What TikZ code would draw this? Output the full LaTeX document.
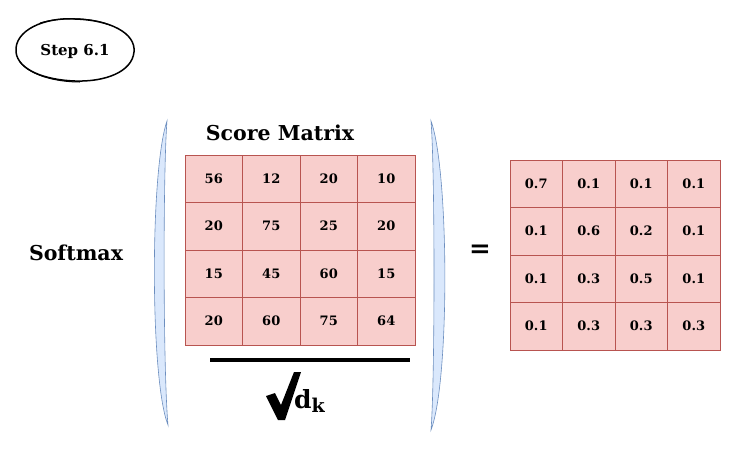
\documentclass[tikz,border=0pt]{standalone}
\usepackage{fontspec}
\setmainfont{DejaVu Serif}
\definecolor{cellfill}{HTML}{F8CECC}
\definecolor{celldraw}{HTML}{B85450}
\definecolor{parfill}{HTML}{DAE8FC}
\definecolor{pardraw}{HTML}{6C8EBF}
\begin{document}
\begin{tikzpicture}[x=1pt,y=-1pt,
  cell/.style={draw=celldraw,fill=cellfill,line width=0.8pt,inner sep=0pt,font=\fontsize{13}{14}\selectfont\bfseries},
  paren/.style={draw=pardraw,fill=parfill,line width=0.6pt},
  bigtext/.style={font=\fontsize{20.5}{22}\selectfont\bfseries}]
\useasboundingbox[fill=white] (0,0) rectangle (741,451);
% Step ellipse
\node[font=\fontsize{15}{16}\selectfont\bfseries] (step) at (75,51) {Step 6.1};
\draw[line width=1.5pt] (16,52) .. controls (14,30) and (45,17) .. (75,19) .. controls (110,20) and (136,33) .. (134,52) .. controls (132,72) and (105,82) .. (75,81) .. controls (45,80) and (18,70) .. (16,52);
\draw[line width=1pt] (20,62) .. controls (30,75) and (55,82) .. (80,82);
\draw[line width=1pt] (40,23) .. controls (60,17) and (90,17) .. (110,25);
% Softmax
\node[bigtext] (softmax) at (76,253) {Softmax};
% parentheses
\draw[paren] (167,121) .. controls (150,170) and (150,380) .. (168,425) .. controls (163,370) and (163,170) .. (167,121) -- cycle;
\draw[paren] (431,121) .. controls (449,170) and (450,380) .. (431,430) .. controls (435,380) and (435,170) .. (431,121) -- cycle;
% title
\node[bigtext] (title) at (280,133) {Score Matrix};
% score matrix
\foreach \r/\vals in {0/{56,12,20,10},1/{20,75,25,20},2/{15,45,60,15},3/{20,60,75,64}}{
  \foreach \v [count=\c from 0] in \vals {
    \node[cell,minimum width=57.5pt,minimum height=47.5pt] (s\r\c) at ({185+57.5*\c+28.75},{155+47.5*\r+23.75}) {\v};
  }
}
% fraction bar
\coordinate (barL) at (210,360);
\coordinate (barR) at (410,360);
\draw[line width=3.5pt] (barL) -- (barR);
% sqrt
\fill (266,396) -- (275,393) -- (281,405) -- (294,372) -- (301,372) -- (285,420) -- (278,420) -- cycle;
\node[inner sep=0pt,anchor=base west,font=\fontsize{25}{27}\selectfont\bfseries] (dk) at (294,408) {d\raisebox{-4pt}{\fontsize{19}{20}\selectfont k}};
% equals
\node[font=\fontsize{26}{28}\selectfont\bfseries] (eq) at (480,251) {=};
% result matrix
\foreach \r/\vals in {0/{0.7,0.1,0.1,0.1},1/{0.1,0.6,0.2,0.1},2/{0.1,0.3,0.5,0.1},3/{0.1,0.3,0.3,0.3}}{
  \foreach \v [count=\c from 0] in \vals {
    \node[cell,minimum width=52.5pt,minimum height=47.5pt] (r\r\c) at ({510+52.5*\c+26.25},{160+47.5*\r+23.75}) {\v};
  }
}
\end{tikzpicture}
\end{document}
